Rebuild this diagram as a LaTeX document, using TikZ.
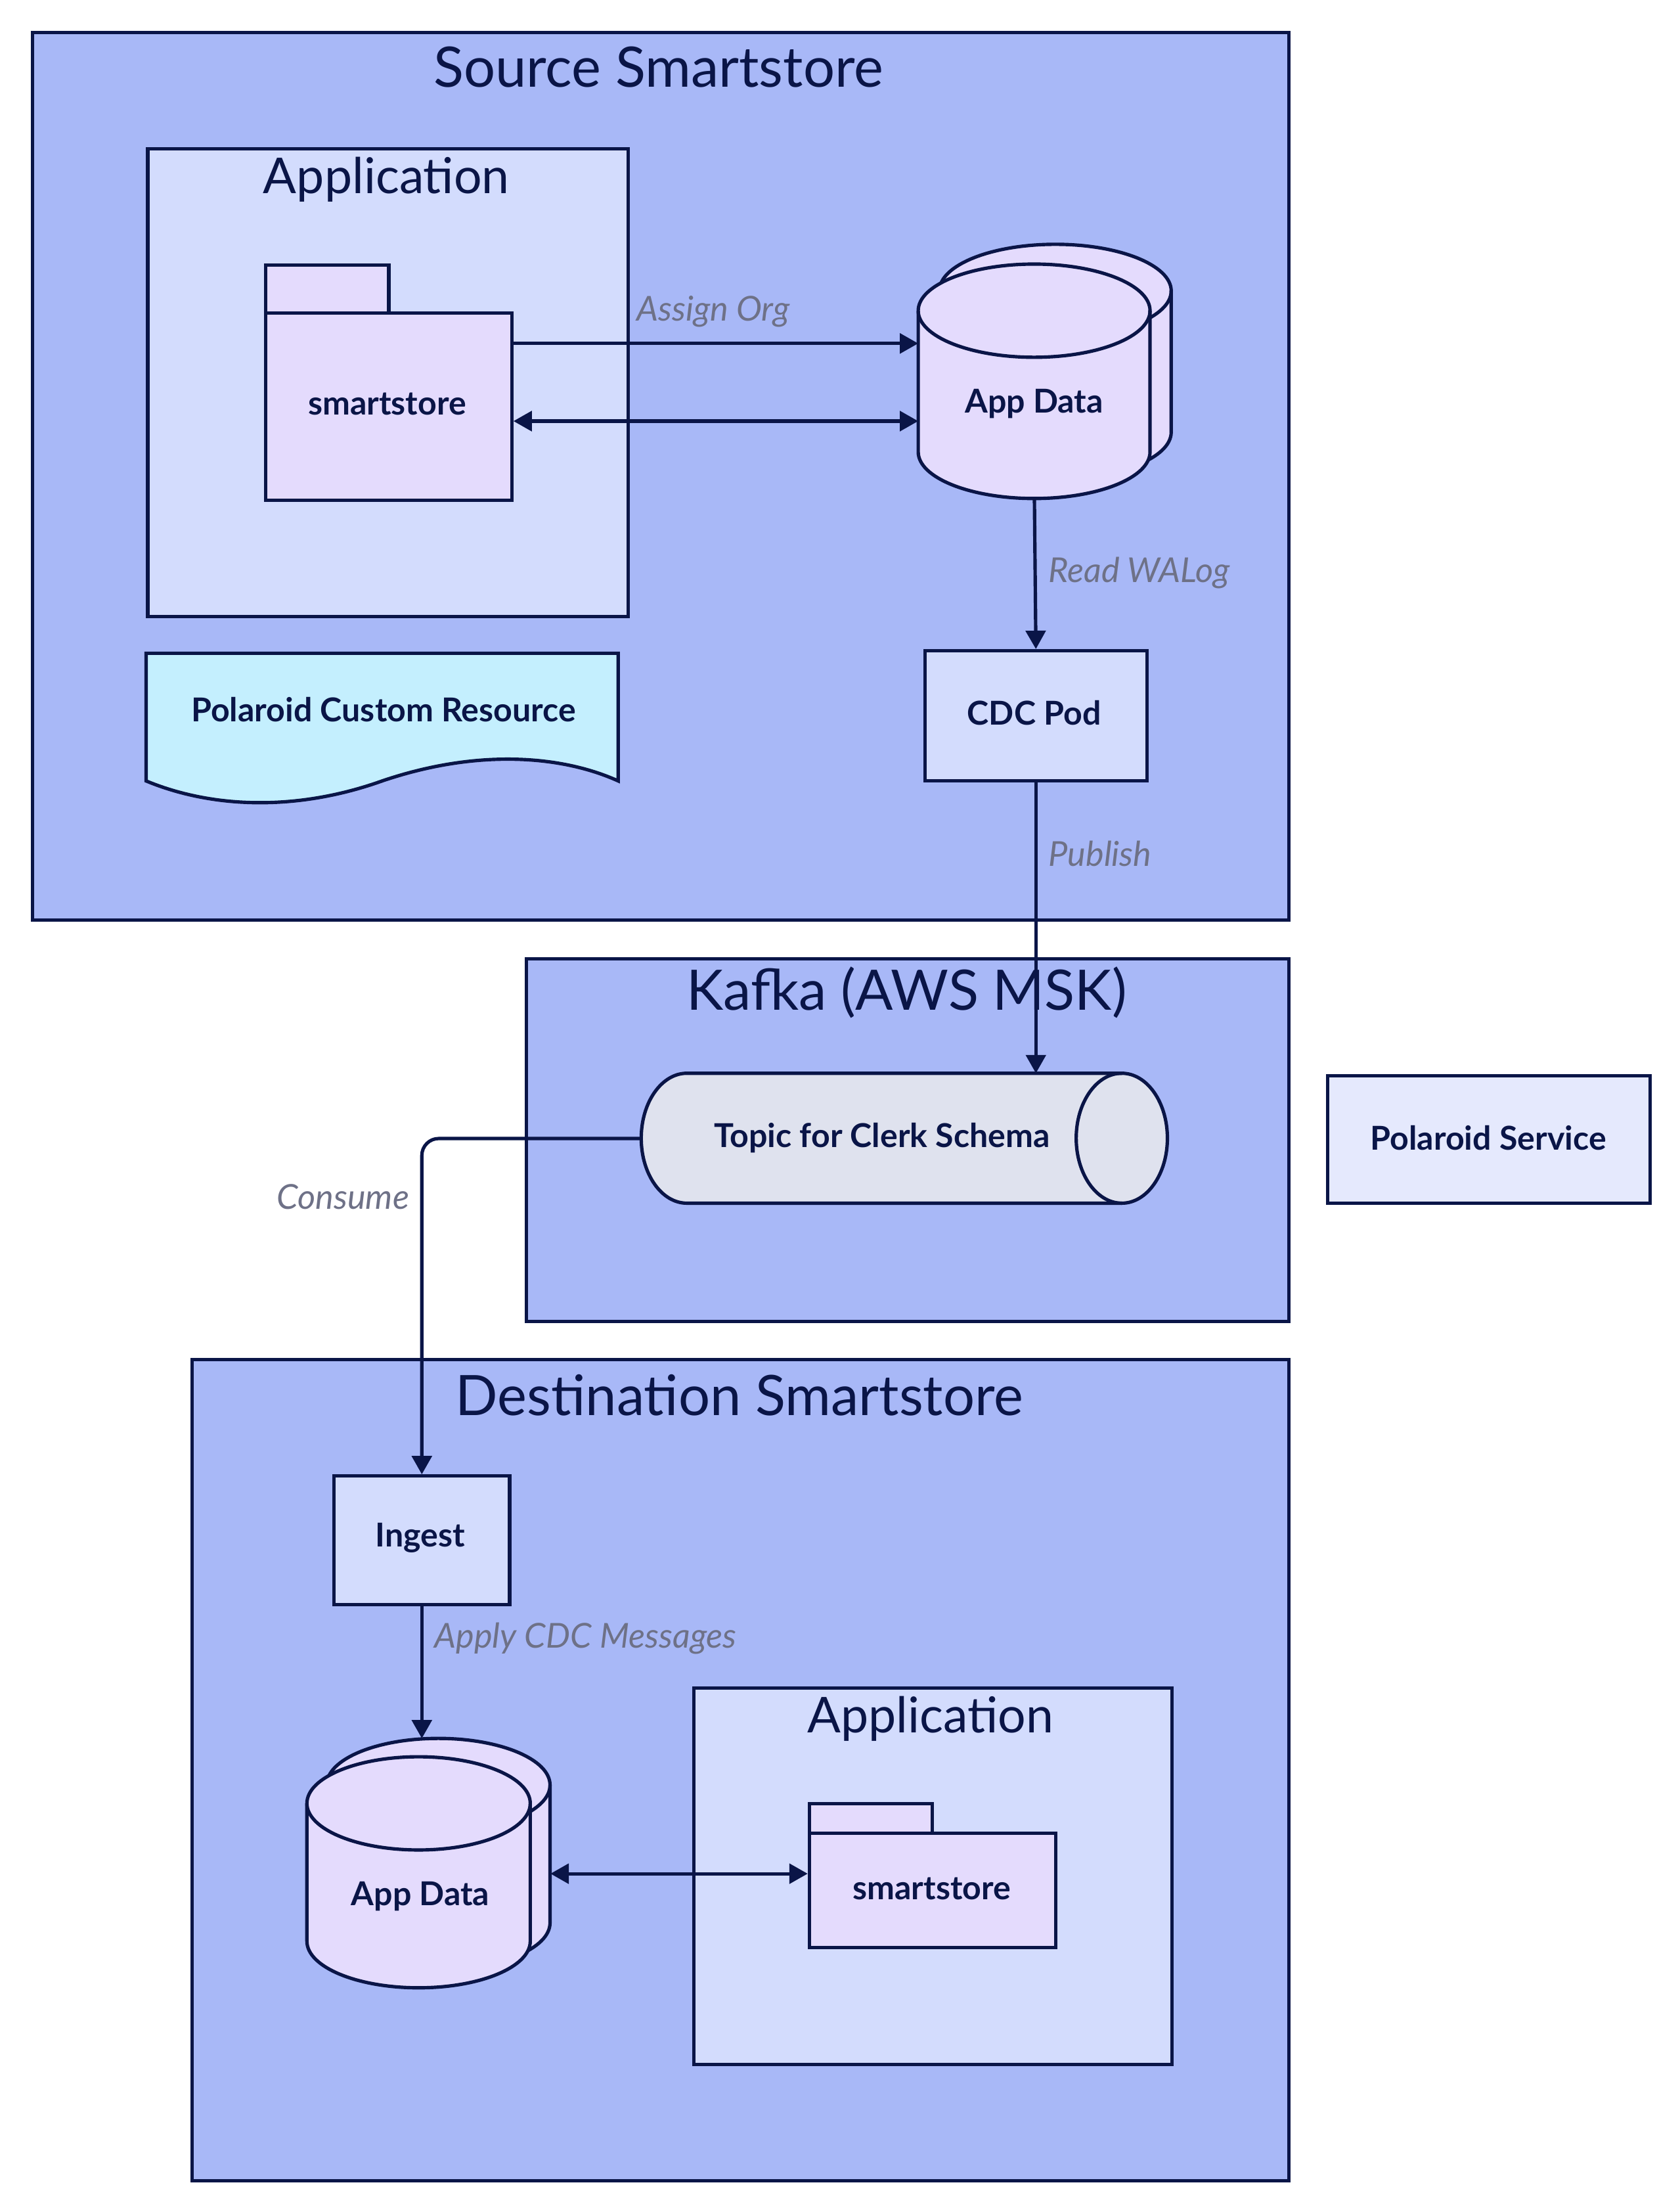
\documentclass[tikz,border=0pt]{standalone}
\usepackage{fontspec}
\setmainfont{Lato}
\usetikzlibrary{arrows.meta}
\definecolor{navy}{HTML}{0A1547}
\definecolor{contfill}{HTML}{A8B8F7}
\definecolor{appfill}{HTML}{D3DCFD}
\definecolor{lavfill}{HTML}{E4DBFD}
\definecolor{docfill}{HTML}{C4EFFE}
\definecolor{topicfill}{HTML}{DFE2EE}
\definecolor{svcfill}{HTML}{E5E9FD}
\definecolor{lblgray}{HTML}{6E7187}
\tikzset{
  container/.style={draw=navy, line width=2.4pt, fill=contfill, rectangle, inner sep=0pt, anchor=north west},
  appbox/.style={draw=navy, line width=2.4pt, fill=appfill, rectangle, inner sep=0pt, anchor=north west},
  pod/.style={draw=navy, line width=2.4pt, fill=appfill, rectangle, inner sep=0pt, anchor=north west},
  svc/.style={draw=navy, line width=2.4pt, fill=svcfill, rectangle, inner sep=0pt, anchor=north west},
  folderpart/.style={draw=navy, line width=2.4pt, fill=lavfill, rectangle, inner sep=0pt, anchor=north west},
  ghost/.style={rectangle, inner sep=0pt, anchor=north west},
  shapeline/.style={draw=navy, line width=2.4pt},
  tip/.tip={Triangle[length=13pt,width=14pt]},
  edge/.style={draw=navy, line width=2.4pt, -tip},
  biedge/.style={draw=navy, line width=2.4pt, tip-tip},
  elabel/.style={font=\fontsize{24.3}{28}\selectfont\itshape, text=lblgray, inner sep=0pt},
  nlabel/.style={font=\fontsize{23.3}{27}\selectfont\bfseries, text=navy, inner sep=0pt},
  ttl/.style={font=\fontsize{39.5}{45}\selectfont, text=navy, inner sep=0pt},
  ttlapp/.style={font=\fontsize{35}{40}\selectfont, text=navy, inner sep=0pt}
}
\newcommand\dbcyl[5]{%
  \path[shapeline, fill=lavfill] (#1-#4,#2) -- (#1-#4,#3)
    arc[start angle=180,end angle=360,x radius=#4,y radius=#5] -- (#1+#4,#2)
    arc[start angle=0,end angle=180,x radius=#4,y radius=#5] -- cycle;
  \draw[shapeline] (#1-#4,#2) arc[start angle=180,end angle=360,x radius=#4,y radius=#5];
}
\begin{document}
\begin{tikzpicture}[x=1pt,y=1pt]
\fill[white] (0,0) rectangle (1190,-1564.96);
\useasboundingbox (0,0) rectangle (1190,-1564.96);

% ---------- Source Smartstore ----------
\node[container, minimum width=889.9pt, minimum height=628.5pt] (src) at (21.9,-21.9) {};
\node[ttl] (srct) at (466.4,-47.3) {Source Smartstore};
\node[appbox, minimum width=340.4pt, minimum height=331.5pt] (app1box) at (103.5,-104) {};
\node[ttlapp] (app1t) at (273.7,-127) {Application};
\node[folderpart, minimum width=87.1pt, minimum height=33.7pt] (tab1) at (187.1,-186.7) {};
\node[folderpart, minimum width=174.2pt, minimum height=132.6pt] (smart1) at (187.1,-220.4) {};
\node[nlabel] (smart1l) at (274.2,-286) {smartstore};

\dbcyl{747.5}{-206}{-306}{82.1}{33}
\dbcyl{732.5}{-220}{-320}{82.1}{33}
\node[ghost, minimum width=164.2pt, minimum height=166pt] (app1) at (650.4,-187) {};
\node[nlabel] (app1l) at (732.5,-286) {App Data};

\node[pod, minimum width=157.3pt, minimum height=92pt] (cdc) at (653.9,-459.6) {};
\node[nlabel] (cdcl) at (732.5,-504.7) {CDC Pod};

\path[shapeline, fill=docfill] (103.5,-462.6) -- (437.9,-462.6) -- (437.9,-553)
  .. controls (398.1,-535) and (338.4,-530) .. (270.7,-553)
  .. controls (209,-575) and (149.3,-572) .. (103.5,-553) -- cycle;
\node[nlabel] (pcr) at (271.7,-502.5) {Polaroid Custom Resource};

% ---------- Kafka ----------
\node[container, minimum width=540.1pt, minimum height=257pt] (kafka) at (371.7,-677.6) {};
\node[ttl] (kafkat) at (642.2,-703) {Kafka (AWS MSK)};
\path[shapeline, fill=topicfill] (486.5,-760) -- (794.6,-760)
  arc[start angle=90,end angle=-90,x radius=32.3,y radius=46] -- (486.5,-852)
  arc[start angle=270,end angle=90,x radius=32.3,y radius=46] -- cycle;
\draw[shapeline] (794.6,-760) arc[start angle=90,end angle=270,x radius=32.3,y radius=46];
\node[ghost, minimum width=372.1pt, minimum height=92pt] (topic) at (454.2,-760) {};
\node[nlabel] (topicl) at (624.8,-806) {Topic for Clerk Schema};

\node[svc, minimum width=228.4pt, minimum height=90.3pt] (psvc) at (939.3,-760.6) {};
\node[nlabel] (psvcl) at (1054.2,-806) {Polaroid Service};

% ---------- Destination Smartstore ----------
\node[container, minimum width=776.9pt, minimum height=581.5pt] (dst) at (134.9,-961.4) {};
\node[ttl] (dstt) at (523.8,-988) {Destination Smartstore};
\node[pod, minimum width=124.4pt, minimum height=91pt] (ingest) at (235.4,-1044) {};
\node[nlabel] (ingestl) at (297.6,-1089) {Ingest};

\dbcyl{310.5}{-1264}{-1361.6}{79.1}{33}
\dbcyl{296.5}{-1277}{-1374.6}{79.1}{33}
\node[ghost, minimum width=158.1pt, minimum height=176.6pt] (app2) at (231.4,-1231) {};
\node[nlabel] (app2l) at (297.7,-1343) {App Data};

\node[appbox, minimum width=338.8pt, minimum height=266.7pt] (app2box) at (490.2,-1194) {};
\node[ttlapp] (app2t) at (659.1,-1217) {Application};
\node[folderpart, minimum width=87.1pt, minimum height=21pt] (tab2) at (572.1,-1276) {};
\node[folderpart, minimum width=174.7pt, minimum height=81pt] (smart2) at (572.1,-1297) {};
\node[nlabel] (smart2l) at (660,-1337.5) {smartstore};

% ---------- Connectors ----------
\draw[edge] ([yshift=44.7pt]smart1.east) -- ([yshift=44.7pt]smart1.east -| app1.west);
\draw[biedge] ([yshift=-10.3pt]smart1.east) -- ([yshift=-10.3pt]smart1.east -| app1.west);
\draw[edge] (app1.south) -- (cdc.north);
\draw[edge] (cdc.south) -- (cdc.south |- topic.north);
\draw[edge, rounded corners=12pt] (topic.west) -| (ingest.north);
\draw[edge] (ingest.south) -- (ingest.south |- app2.north);
\draw[biedge] ([yshift=-7.3pt]app2.east) -- ([yshift=-7.3pt]app2.east -| smart2.west);

\node[elabel] (lassign) at (505.2,-220.7) {Assign Org};
\node[elabel, anchor=west] (lread) at (742.5,-405.8) {Read WALog};
\node[elabel, anchor=west] (lpub) at (742.5,-604.6) {Publish};
\node[elabel, anchor=east] (lcons) at (290,-847.4) {Consume};
\node[elabel, anchor=west] (lapply) at (307.5,-1160) {Apply CDC Messages};
\end{tikzpicture}
\end{document}
